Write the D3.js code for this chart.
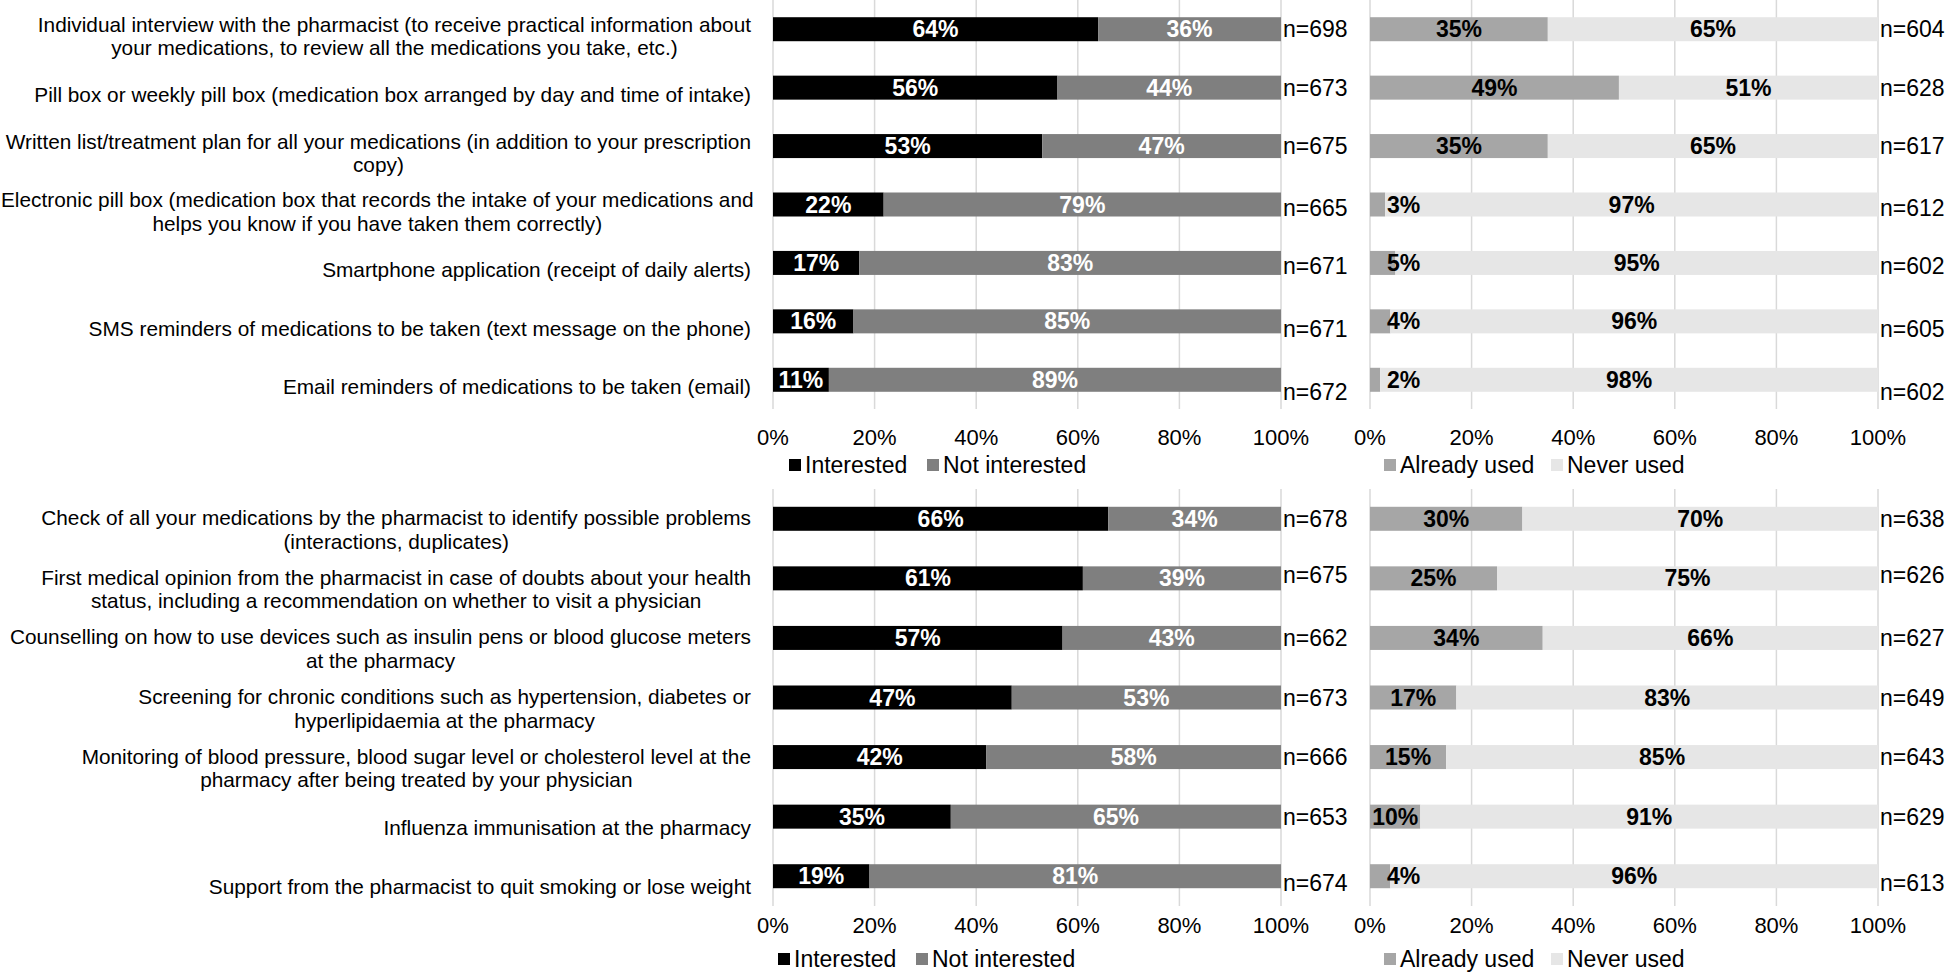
<!DOCTYPE html>
<html><head><meta charset="utf-8">
<script src="https://cdn.jsdelivr.net/npm/d3@7"></script>
<style>
body{margin:0;background:#fff;}
svg{display:block;}
text{font-family:"Liberation Sans",Arial,Helvetica,sans-serif;}
</style>
</head><body>
<svg id="c" width="1946" height="973"></svg>
<script>
// ---------- DATA ----------
const topCategories = [
  ["Individual interview with the pharmacist (to receive practical information about", "your medications, to review all the medications you take, etc.)"],
  ["Pill box or weekly pill box (medication box arranged by day and time of intake)"],
  ["Written list/treatment plan for all your medications (in addition to your prescription", "copy)"],
  ["Electronic pill box (medication box that records the intake of your medications and", "helps you know if you have taken them correctly)"],
  ["Smartphone application (receipt of daily alerts)"],
  ["SMS reminders of medications to be taken (text message on the phone)"],
  ["Email reminders of medications to be taken (email)"]
];
const topInterested    = [64, 56, 53, 22, 17, 16, 11];
const topNotInterested = [36, 44, 47, 79, 83, 85, 89];
const topInterestN     = [698, 673, 675, 665, 671, 671, 672];
const topAlreadyUsed   = [35, 49, 35, 3, 5, 4, 2];
const topNeverUsed     = [65, 51, 65, 97, 95, 96, 98];
const topUseN          = [604, 628, 617, 612, 602, 605, 602];

const bottomCategories = [
  ["Check of all your medications by the pharmacist to identify possible problems", "(interactions, duplicates)"],
  ["First medical opinion from the pharmacist in case of doubts about your health", "status, including a recommendation on whether to visit a physician"],
  ["Counselling on how to use devices such as insulin pens or blood glucose meters", "at the pharmacy"],
  ["Screening for chronic conditions such as hypertension, diabetes or", "hyperlipidaemia at the pharmacy"],
  ["Monitoring of blood pressure, blood sugar level or cholesterol level at the", "pharmacy after being treated by your physician"],
  ["Influenza immunisation at the pharmacy"],
  ["Support from the pharmacist to quit smoking or lose weight"]
];
const bottomInterested    = [66, 61, 57, 47, 42, 35, 19];
const bottomNotInterested = [34, 39, 43, 53, 58, 65, 81];
const bottomInterestN     = [678, 675, 662, 673, 666, 653, 674];
const bottomAlreadyUsed   = [30, 25, 34, 17, 15, 10, 4];
const bottomNeverUsed     = [70, 75, 66, 83, 85, 91, 96];
const bottomUseN          = [638, 626, 627, 649, 643, 629, 613];

const tickValues = [0, 0.2, 0.4, 0.6, 0.8, 1];
const tickLabels = ["0%", "20%", "40%", "60%", "80%", "100%"];
const interestSeries = ["Interested", "Not interested"];
const useSeries = ["Already used", "Never used"];

// ---------- LAYOUT / STYLE ----------
const svg = d3.select("#c");
const leftRange = [773, 1281], rightRange = [1370, 1878];
const topY = [0, 409], bottomY = [489, 906];
const interestColors = ["#000000", "#7f7f7f"];
const useColors = ["#a6a6a6", "#e6e6e6"];
const gridColor = "#d9d9d9";
const labelRight = 751;
const topNDy = [0, 0, 0, 3, 3, 8, 12];
const bottomNDy = [0, -3, 0, 0, 0, 0, 7];

function drawGrid(xs, yRange, tickY) {
  const g = svg.append("g");
  g.selectAll("line").data(tickValues).join("line")
    .attr("x1", d => xs(d)).attr("x2", d => xs(d))
    .attr("y1", yRange[0]).attr("y2", yRange[1])
    .attr("stroke", gridColor).attr("stroke-width", 1.5);
  g.selectAll("text").data(tickValues).join("text")
    .attr("x", d => xs(d)).attr("y", tickY).attr("dy", "0.35em")
    .attr("text-anchor", "middle").attr("font-size", 22).attr("fill", "#000")
    .text((d, i) => tickLabels[i]);
}

function drawBars(xs, ys, first, second, nVals, colors, textColor, nDy, nX) {
  const rows = first.map((a, i) => {
    const tot = a + second[i];
    return { i, a, b: second[i], fa: a / tot, n: nVals[i] };
  });
  const g = svg.append("g");
  rows.forEach(r => {
    const yTop = ys(r.i), bh = ys.bandwidth(), yc = yTop + bh / 2;
    const segs = [
      { x0: 0, x1: r.fa, v: r.a, c: colors[0] },
      { x0: r.fa, x1: 1, v: r.b, c: colors[1] }
    ];
    segs.forEach(s => {
      g.append("rect").attr("x", xs(s.x0)).attr("y", yTop)
        .attr("width", xs(s.x1) - xs(s.x0)).attr("height", bh).attr("fill", s.c);
    });
    segs.forEach(s => {
      const t = g.append("text").attr("y", yc).attr("dy", "0.35em")
        .attr("font-size", 23).attr("font-weight", "bold").attr("fill", textColor)
        .text(s.v + "%");
      const tw = t.node().getComputedTextLength();
      const segW = xs(s.x1) - xs(s.x0);
      if (segW < tw) {
        t.attr("x", xs(s.x0) + 17).attr("text-anchor", "start");
      } else {
        t.attr("x", (xs(s.x0) + xs(s.x1)) / 2).attr("text-anchor", "middle");
      }
    });
    g.append("text").attr("x", nX).attr("y", yc + nDy[r.i]).attr("dy", "0.35em")
      .attr("font-size", 23).attr("fill", "#000").text("n=" + r.n);
  });
}

function drawLabels(cats, ys, offset) {
  const g = svg.append("g");
  const lh = 23.5;
  cats.forEach((lines, i) => {
    const yc = ys(i) + ys.bandwidth() / 2 + offset;
    const texts = lines.map((ln, k) => g.append("text")
      .attr("font-size", 20.8).attr("fill", "#000")
      .attr("y", yc + (k - (lines.length - 1) / 2) * lh).attr("dy", "0.35em")
      .attr("text-anchor", "middle").text(ln));
    const maxW = d3.max(texts, t => t.node().getComputedTextLength());
    const cx = Math.max(labelRight - maxW / 2, maxW / 2 + 1);
    texts.forEach(t => t.attr("x", cx));
  });
}

function drawLegend(names, colors, xs, y) {
  const g = svg.append("g");
  names.forEach((nm, i) => {
    g.append("rect").attr("x", xs[i]).attr("y", y - 6).attr("width", 12).attr("height", 12).attr("fill", colors[i]);
    g.append("text").attr("x", xs[i] + 16).attr("y", y).attr("dy", "0.35em")
      .attr("font-size", 23).attr("fill", "#000").text(nm);
  });
}

function makeY(range) {
  const step = (range[1] - range[0]) / 7;
  const pi = 1 - 24 / step;
  return d3.scaleBand().domain(d3.range(7)).range(range).paddingInner(pi).paddingOuter(pi / 2);
}

const xL = d3.scaleLinear().domain([0, 1]).range(leftRange);
const xR = d3.scaleLinear().domain([0, 1]).range(rightRange);
const yTop = makeY(topY), yBot = makeY(bottomY);

drawGrid(xL, topY, 437); drawGrid(xR, topY, 437);
drawGrid(xL, bottomY, 925); drawGrid(xR, bottomY, 925);

drawBars(xL, yTop, topInterested, topNotInterested, topInterestN, interestColors, "#fff", topNDy, 1283);
drawBars(xR, yTop, topAlreadyUsed, topNeverUsed, topUseN, useColors, "#000", topNDy, 1880);
drawBars(xL, yBot, bottomInterested, bottomNotInterested, bottomInterestN, interestColors, "#fff", bottomNDy, 1283);
drawBars(xR, yBot, bottomAlreadyUsed, bottomNeverUsed, bottomUseN, useColors, "#000", bottomNDy, 1880);

drawLabels(topCategories, yTop, 7);
drawLabels(bottomCategories, yBot, 11);

drawLegend(interestSeries, interestColors, [789, 927], 465);
drawLegend(useSeries, useColors, [1384, 1551], 465);
drawLegend(interestSeries, interestColors, [778, 916], 959);
drawLegend(useSeries, useColors, [1384, 1551], 959);
</script>
</body></html>
